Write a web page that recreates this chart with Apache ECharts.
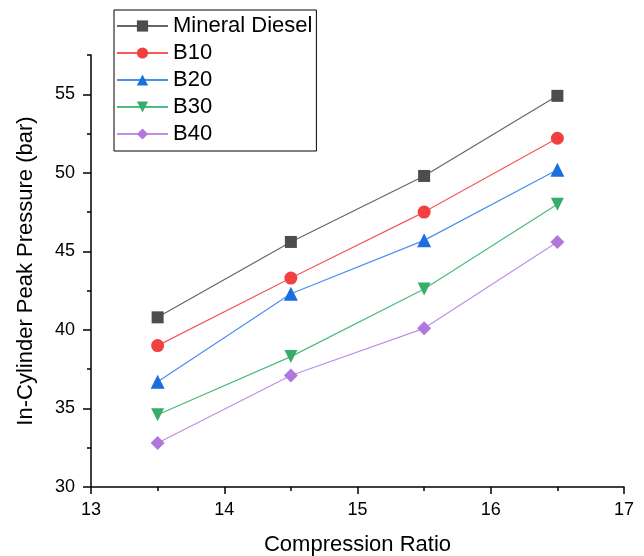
<!DOCTYPE html>
<html>
<head>
<meta charset="utf-8">
<script src="https://cdn.jsdelivr.net/npm/echarts@6/dist/echarts.min.js"></script>
<style>
  html, body { margin: 0; padding: 0; background: #fff; }
  #chart { width: 644px; height: 556px; }
</style>
</head>
<body>
<div id="chart"></div>
<script>
// data
const ratios = [13.5, 14.5, 15.5, 16.5];
const seriesNames = ['Mineral Diesel', 'B10', 'B20', 'B30', 'B40'];
const mineralDiesel = [40.8, 45.6, 49.8, 54.9];
const b10 = [39.0, 43.3, 47.5, 52.2];
const b20 = [36.7, 42.3, 45.7, 50.2];
const b30 = [34.6, 38.3, 42.6, 48.0];
const b40 = [32.8, 37.1, 40.1, 45.6];
const yTickLabels = [30, 35, 40, 45, 50, 55];

const values = [mineralDiesel, b10, b20, b30, b40];
const symbols = ['rect', 'circle', 'triangle', 'path://M0,0 L10,0 L5,10 Z', 'diamond'];
const markerColors = ['#4d4d4d', '#f23f3f', '#1a6fdf', '#37ad6b', '#b177de'];
const lineColors = ['#666666', '#f55a5a', '#4a8ff0', '#4cbb7c', '#bf8fe6'];
const symbolSizes = [12, 13, 14, 13, 14];

const chart = echarts.init(document.getElementById('chart'));
const font = 'Liberation Sans, Arial, sans-serif';
const axisStroke = { color: '#000', width: 1.5 };

chart.setOption({
  animation: false,
  grid: { left: 91, right: 20, top: 55, bottom: 69, outerBoundsMode: 'none' },
  legend: {
    orient: 'vertical',
    left: 114,
    top: 10,
    borderColor: '#000',
    borderWidth: 1,
    borderRadius: 0,
    padding: [5, 4, 6, 2],
    itemWidth: 51,
    itemHeight: 14,
    itemGap: 5,
    textStyle: { fontFamily: font, fontSize: 22, lineHeight: 22, color: '#000' },
    data: seriesNames
  },
  xAxis: {
    type: 'value',
    min: 13,
    max: 17,
    interval: 1,
    name: 'Compression Ratio',
    nameLocation: 'middle',
    nameGap: 47,
    nameTextStyle: { fontFamily: font, fontSize: 22, color: '#000' },
    axisLine: { onZero: false, lineStyle: axisStroke },
    axisTick: { length: 7, lineStyle: axisStroke },
    minorTick: { show: true, splitNumber: 2, length: 4, lineStyle: axisStroke },
    axisLabel: { fontFamily: font, fontSize: 18, color: '#000', margin: 14 },
    splitLine: { show: false }
  },
  yAxis: [
    {
      type: 'value',
      min: 30,
      max: 57.5,
      interval: 2.5,
      axisLine: { show: true, onZero: false, lineStyle: axisStroke },
      axisTick: { length: 4, lineStyle: axisStroke },
      axisLabel: { show: false },
      splitLine: { show: false }
    },
    {
      type: 'value',
      position: 'left',
      min: 30,
      max: 57.5,
      interval: 5,
      name: 'In-Cylinder Peak Pressure (bar)',
      nameLocation: 'middle',
      nameGap: 54,
      nameTextStyle: { fontFamily: font, fontSize: 22, color: '#000' },
      axisLine: { show: false },
      axisTick: { show: true, length: 8, customValues: yTickLabels, lineStyle: axisStroke },
      axisLabel: { fontFamily: font, fontSize: 18, color: '#000', margin: 16, customValues: yTickLabels },
      splitLine: { show: false }
    }
  ],
  series: seriesNames.map((name, i) => ({
    name,
    type: 'line',
    yAxisIndex: 1,
    data: ratios.map((r, j) => [r, values[i][j]]),
    symbol: symbols[i],
    symbolSize: symbolSizes[i],
    itemStyle: { color: markerColors[i] },
    lineStyle: { color: lineColors[i], width: 1.2 }
  }))
});
</script>
</body>
</html>
